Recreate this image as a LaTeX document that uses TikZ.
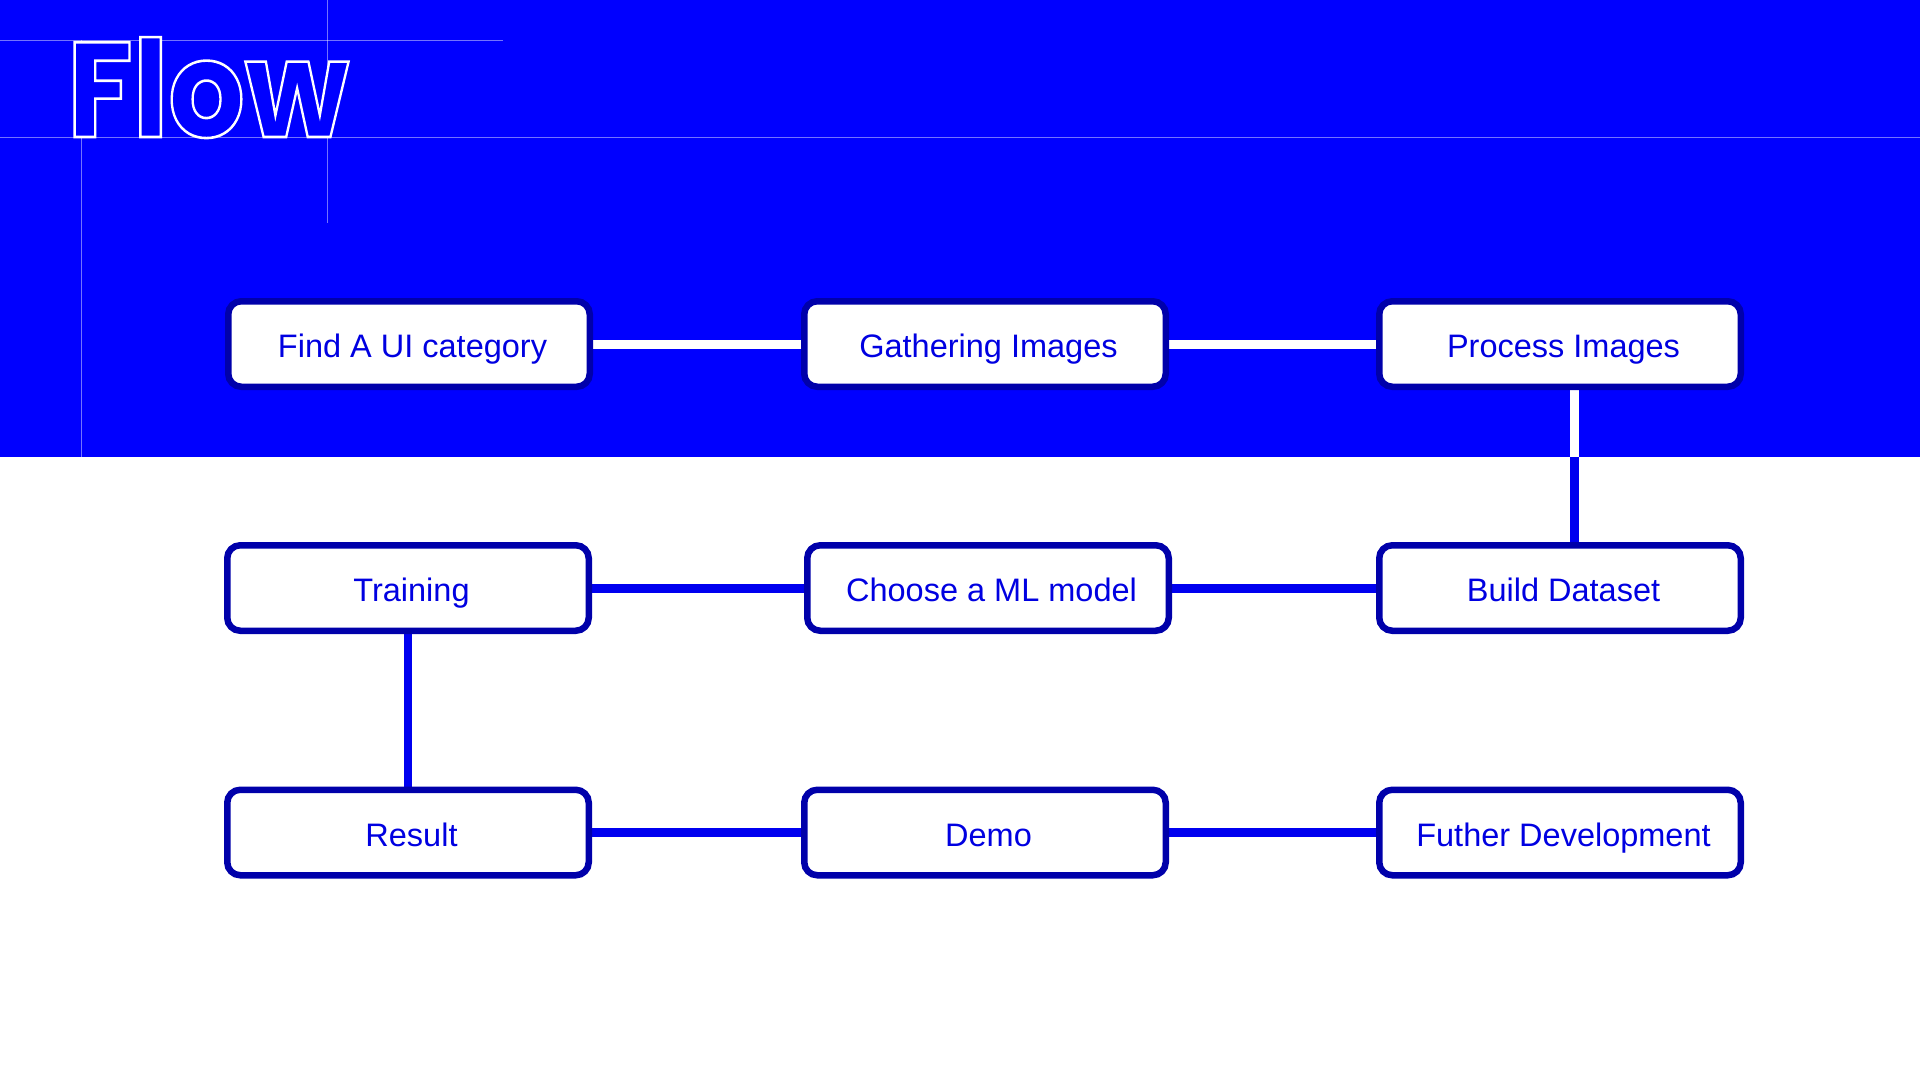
\documentclass[tikz,border=0pt]{standalone}
\usepackage{fontspec}
\newfontfamily\labelfont{Liberation Sans}
\newfontfamily\flowfont{Poppins}
\definecolor{bandblue}{RGB}{0,0,255}
\definecolor{boxborder}{RGB}{0,0,170}
\definecolor{textblue}{RGB}{0,0,225}
\definecolor{lineblue}{RGB}{0,0,240}
\newcommand{\outlinetext}[1]{\special{pdf:literal direct 2 Tr 2.6 w 1 1 1 RG 0 0 1 rg}#1\special{pdf:literal direct 0 Tr}}
\pgfdeclarelayer{back}
\pgfdeclarelayer{mid}
\pgfsetlayers{back,mid,main}
\tikzset{
  flowbox/.style={draw=boxborder, line width=6.5pt, fill=white, rounded corners=13pt,
    minimum width=361.5pt, minimum height=85.5pt, inner sep=0pt,
    text=textblue, font=\labelfont\fontsize{32.5}{36}\selectfont,
    text height=27pt, text depth=0pt, execute at begin node={\hspace*{7pt}}},
  linkwhite/.style={draw=white, line width=9pt},
  linkblue/.style={draw=lineblue, line width=9pt},
  guide/.style={draw=white, draw opacity=0.45, line width=1pt},
  flowtext/.style={font=\flowfont\bfseries\fontsize{135}{135}\selectfont, inner sep=0pt,
    anchor=base west, xscale=0.89, transform shape}
}
\begin{document}
\begin{tikzpicture}[x=1pt,y=-1pt]
\useasboundingbox (0,0) rectangle (1920,1080);
\begin{pgfonlayer}{back}
  \fill[white] (0,0) rectangle (1920,1080);
  \fill[bandblue] (0,0) rectangle (1920,457);
  \draw[guide] (0,40) -- (503,40);
  \draw[guide] (0,137) -- (1920,137);
  \draw[guide] (81,40) -- (81,457);
  \draw[guide] (327,0) -- (327,223);
  \node[flowtext, text=bandblue] (flow) at (67,137) {\outlinetext{Flow}};
\end{pgfonlayer}

% boxes
\node[flowbox] (fc) at (409,344) {Find A UI category};
\node[flowbox] (gi) at (985,344) {Gathering Images};
\node[flowbox] (pi) at (1560,344) {Process Images};
\node[flowbox] (tr) at (408,588) {Training};
\node[flowbox] (cm) at (988,588) {Choose a ML model};
\node[flowbox] (bd) at (1560,588) {Build Dataset};
\node[flowbox] (rs) at (408,832.5) {Result};
\node[flowbox] (dm) at (985,832.5) {Demo};
\node[flowbox] (fd) at (1560,832.5) {Futher Development};

\coordinate (bandedge) at (1574.5,457);

\begin{pgfonlayer}{mid}
  \draw[linkwhite] (fc) -- (gi);
  \draw[linkwhite] (gi) -- (pi);
  \draw[linkwhite] (pi.south -| bandedge) -- (bandedge);
  \draw[linkblue] (bandedge) -- (bd.north -| bandedge);
  \draw[linkblue] (tr) -- (cm);
  \draw[linkblue] (cm) -- (bd);
  \draw[linkblue, line width=8pt] (tr) -- (rs);
  \draw[linkblue] (rs) -- (dm);
  \draw[linkblue] (dm) -- (fd);
\end{pgfonlayer}
\end{tikzpicture}
\end{document}
